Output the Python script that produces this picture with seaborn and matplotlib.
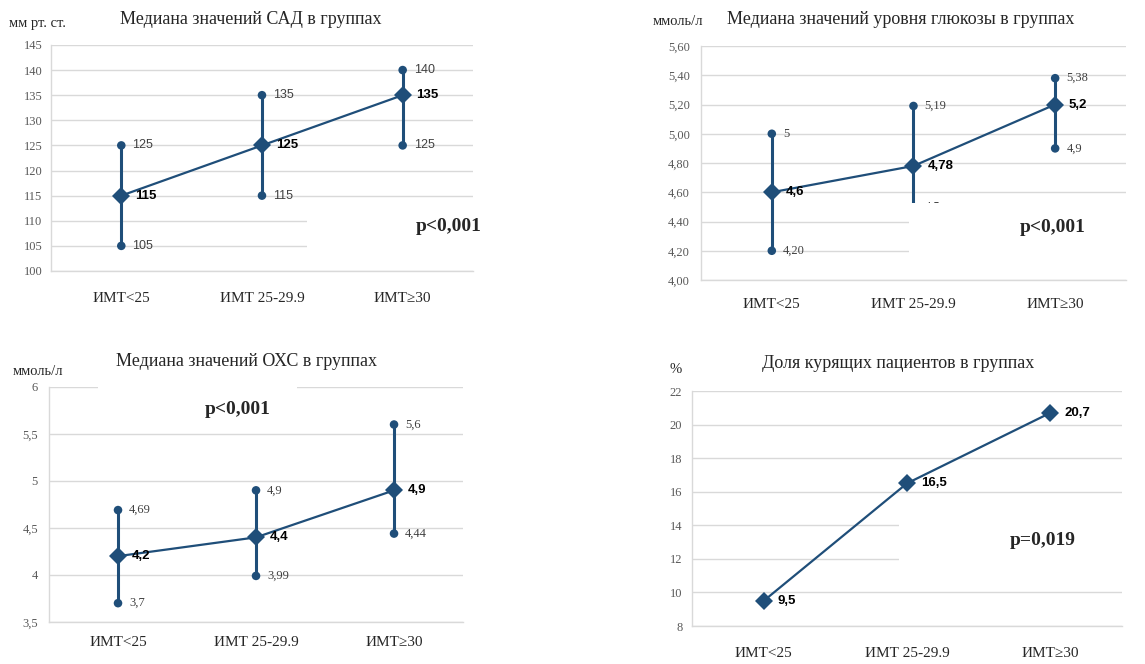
import matplotlib
matplotlib.use('Agg')
import matplotlib.pyplot as plt
import numpy as np
import pandas as pd
import seaborn as sns
from matplotlib.patches import Rectangle

# groups on the x axis
groups = ['ИМТ<25', 'ИМТ 25-29.9', 'ИМТ≥30']

# systolic blood pressure
sad_low = [105, 115, 125]
sad_med = [115, 125, 135]
sad_high = [125, 135, 140]
sad_low_lbl = ['105', '115', '125']
sad_med_lbl = ['115', '125', '135']
sad_high_lbl = ['125', '135', '140']
sad_ticks = [100, 105, 110, 115, 120, 125, 130, 135, 140, 145]

# glucose
glu_low = [4.20, 4.5, 4.9]
glu_med = [4.6, 4.78, 5.2]
glu_high = [5.0, 5.19, 5.38]
glu_low_lbl = ['4,20', '4,5', '4,9']
glu_med_lbl = ['4,6', '4,78', '5,2']
glu_high_lbl = ['5', '5,19', '5,38']
glu_ticks = [4.0, 4.2, 4.4, 4.6, 4.8, 5.0, 5.2, 5.4, 5.6]

# total cholesterol
chol_low = [3.7, 3.99, 4.44]
chol_med = [4.2, 4.4, 4.9]
chol_high = [4.69, 4.9, 5.6]
chol_low_lbl = ['3,7', '3,99', '4,44']
chol_med_lbl = ['4,2', '4,4', '4,9']
chol_high_lbl = ['4,69', '4,9', '5,6']
chol_ticks = [3.5, 4, 4.5, 5, 5.5, 6]

# smokers share, %
smok = [9.5, 16.5, 20.7]
smok_lbl = ['9,5', '16,5', '20,7']
smok_ticks = [8, 10, 12, 14, 16, 18, 20, 22]

BLUE = '#1f4e79'
GRID = '#d9d9d9'
SERIF = ['Liberation Serif', 'DejaVu Serif']
SANS = ['Liberation Sans', 'DejaVu Sans']

sns.set_theme(style='white')
plt.rcParams['font.family'] = SERIF

fig = plt.figure(figsize=(11.45, 6.64), dpi=100)


def base_axes(rect, ticks, tick_fmt, xpad, ypad):
    ax = fig.add_axes(rect)
    ax.set_xlim(-0.5, 2.5)
    ax.set_ylim(ticks[0], ticks[-1])
    ax.set_yticks(ticks)
    ax.set_yticklabels([tick_fmt(t) for t in ticks], fontsize=9, color='#595959', family=SERIF)
    ax.set_xticks(range(3))
    ax.set_xticklabels(groups, fontsize=11, color='#262626', family=SERIF)
    ax.tick_params(axis='x', length=0, pad=xpad)
    ax.tick_params(axis='y', length=0, pad=ypad)
    ax.grid(axis='y', color=GRID, lw=1)
    ax.set_axisbelow(True)
    for s in ['top', 'right']:
        ax.spines[s].set_visible(False)
    for s in ['left', 'bottom']:
        ax.spines[s].set_color(GRID)
        ax.spines[s].set_linewidth(1)
    return ax


def range_panel(ax, low, med, high, low_lbl, med_lbl, high_lbl, side_font):
    x = np.arange(3)
    ax.vlines(x, low, high, color=BLUE, lw=2.2, zorder=3)
    ends = pd.DataFrame({'x': np.concatenate([x, x]), 'y': low + high})
    sns.scatterplot(data=ends, x='x', y='y', ax=ax, color=BLUE, s=38, edgecolor='none', zorder=4, clip_on=False)
    df = pd.DataFrame({'x': x, 'y': med})
    sns.lineplot(data=df, x='x', y='y', ax=ax, color=BLUE, lw=1.6, marker='D', markersize=9,
                 markeredgewidth=0, zorder=5, clip_on=False)
    for i in range(3):
        ax.annotate(high_lbl[i], (x[i], high[i]), xytext=(8, 0), textcoords='offset points',
                    va='center', ha='left', fontsize=9, color='#404040', family=side_font, zorder=6)
        ax.annotate(low_lbl[i], (x[i], low[i]), xytext=(8, 0), textcoords='offset points',
                    va='center', ha='left', fontsize=9, color='#404040', family=side_font, zorder=6)
        ax.annotate(med_lbl[i], (x[i], med[i]), xytext=(10, 0), textcoords='offset points',
                    va='center', ha='left', fontsize=9.5, fontweight='bold', color='black',
                    family=SANS, zorder=6)
    ax.set_xlabel('')
    ax.set_ylabel('')


def white_box(ax, x0, x1, y0, y1, z=2.5):
    ax.add_patch(Rectangle((x0, y0), x1 - x0, y1 - y0, facecolor='white', edgecolor='none',
                           zorder=z, clip_on=False))


# panel 1: SAD
ax1 = base_axes([0.0445, 0.5919, 0.3686, 0.3404], sad_ticks, lambda t: f'{t}', 15, 6)
range_panel(ax1, sad_low, sad_med, sad_high, sad_low_lbl, sad_med_lbl, sad_high_lbl, SANS)
white_box(ax1, 1.32, 2.5, 102.5, 112.5)
ax1.text(2.33, 108.8, 'p<0,001', ha='center', va='center', fontsize=14, fontweight='bold', zorder=7)

# panel 2: glucose (the p-value box hides the lower whisker of the middle group)
ax2 = base_axes([0.6122, 0.5783, 0.3712, 0.3524], glu_ticks, lambda t: f'{t:.2f}'.replace('.', ','), 13, 8)
range_panel(ax2, glu_low, glu_med, glu_high, glu_low_lbl, glu_med_lbl, glu_high_lbl, SERIF)
white_box(ax2, 0.965, 2.5, 4.1, 4.528, z=6.5)
ax2.text(1.98, 4.36, 'p<0,001', ha='center', va='center', fontsize=14, fontweight='bold', zorder=7)

# panel 3: cholesterol
ax3 = base_axes([0.0428, 0.0633, 0.3616, 0.354], chol_ticks, lambda t: f'{t:g}'.replace('.', ','), 10, 8)
range_panel(ax3, chol_low, chol_med, chol_high, chol_low_lbl, chol_med_lbl, chol_high_lbl, SERIF)
white_box(ax3, -0.144, 1.30, 5.62, 6.03)
ax3.text(0.866, 5.755, 'p<0,001', ha='center', va='center', fontsize=14, fontweight='bold', zorder=7)

# panel 4: smokers
ax4 = base_axes([0.6044, 0.0572, 0.3755, 0.3539], smok_ticks, lambda t: f'{t}', 15, 7)
df4 = pd.DataFrame({'x': np.arange(3), 'y': smok})
sns.lineplot(data=df4, x='x', y='y', ax=ax4, color=BLUE, lw=1.6, marker='D', markersize=9,
             markeredgewidth=0, zorder=5)
for i in range(3):
    ax4.annotate(smok_lbl[i], (i, smok[i]), xytext=(10, 0), textcoords='offset points',
                 va='center', ha='left', fontsize=9.5, fontweight='bold', color='black', family=SANS, zorder=6)
ax4.set_xlabel('')
ax4.set_ylabel('')
white_box(ax4, 0.944, 2.5, 11.0, 15.0)
ax4.text(1.95, 13.12, 'p=0,019', ha='center', va='center', fontsize=14, fontweight='bold', zorder=7)

# titles and units
fig.text(0.219, 0.971, 'Медиана значений САД в группах', ha='center', va='center', fontsize=13, color='#262626')
fig.text(0.787, 0.971, 'Медиана значений уровня глюкозы в группах', ha='center', va='center', fontsize=13, color='#262626')
fig.text(0.2155, 0.456, 'Медиана значений ОХС в группах', ha='center', va='center', fontsize=13, color='#262626')
fig.text(0.784, 0.453, 'Доля курящих пациентов в группах', ha='center', va='center', fontsize=13, color='#262626')

fig.text(0.033, 0.965, 'мм рт. ст.', ha='center', va='center', fontsize=10.5, color='#262626')
fig.text(0.592, 0.967, 'ммоль/л', ha='center', va='center', fontsize=10.5, color='#262626')
fig.text(0.033, 0.44, 'ммоль/л', ha='center', va='center', fontsize=10.5, color='#262626')
fig.text(0.590, 0.443, '%', ha='center', va='center', fontsize=10.5, color='#262626')

fig.savefig('out.png', dpi=100, facecolor='white')
